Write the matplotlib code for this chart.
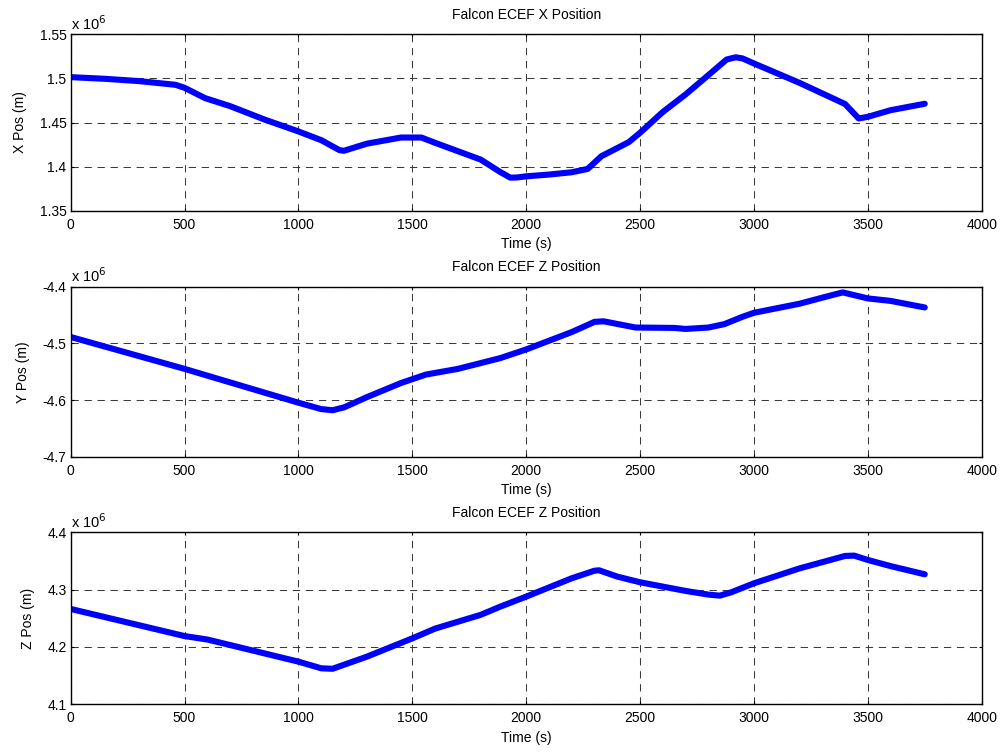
import matplotlib
matplotlib.use("Agg")
import matplotlib.pyplot as plt
from matplotlib.ticker import FuncFormatter, MultipleLocator

plt.rcParams['font.family'] = ['Liberation Sans', 'DejaVu Sans']
plt.rcParams['font.size'] = 10

# Falcon ECEF position track (time in s, position in m)
t_x = [0, 150, 300, 460, 500, 590, 700, 850, 1000, 1100, 1180, 1200, 1300, 1450,
       1540, 1600, 1800, 1886, 1930, 1960, 2000, 2100, 2200, 2270, 2330, 2450,
       2500, 2600, 2700, 2800, 2880, 2920, 2950, 3000, 3200, 3400, 3460, 3500,
       3600, 3750]
x_pos = [1.5015e6, 1.4996e6, 1.4970e6, 1.4928e6, 1.4894e6, 1.4777e6, 1.4686e6,
         1.4535e6, 1.4399e6, 1.4300e6, 1.4187e6, 1.4180e6, 1.4260e6, 1.4330e6,
         1.4330e6, 1.4270e6, 1.4080e6, 1.3939e6, 1.3875e6, 1.3877e6, 1.3890e6,
         1.3910e6, 1.3936e6, 1.3974e6, 1.4118e6, 1.4277e6, 1.4384e6, 1.4620e6,
         1.4819e6, 1.5038e6, 1.5215e6, 1.5240e6, 1.5227e6, 1.5170e6, 1.4950e6,
         1.4710e6, 1.4546e6, 1.4565e6, 1.4640e6, 1.4713e6]

t_y = [0, 500, 1000, 1100, 1150, 1200, 1300, 1450, 1560, 1700, 1886, 2000, 2200,
       2300, 2340, 2480, 2650, 2700, 2800, 2870, 2950, 3000, 3200, 3350, 3390,
       3500, 3600, 3750]
y_pos = [-4.4887e6, -4.5450e6, -4.6047e6, -4.6160e6, -4.6180e6, -4.6130e6,
         -4.5950e6, -4.5700e6, -4.5550e6, -4.5450e6, -4.5260e6, -4.5107e6,
         -4.4800e6, -4.4620e6, -4.4610e6, -4.4720e6, -4.4727e6, -4.4745e6,
         -4.4720e6, -4.4660e6, -4.4530e6, -4.4460e6, -4.4300e6, -4.4140e6,
         -4.4100e6, -4.4206e6, -4.4250e6, -4.4366e6]

t_z = [0, 500, 600, 1000, 1100, 1150, 1200, 1300, 1500, 1600, 1800, 1886, 2000,
       2200, 2300, 2320, 2400, 2500, 2700, 2800, 2850, 2900, 3000, 3200, 3400,
       3440, 3500, 3600, 3750]
z_pos = [4.2663e6, 4.2190e6, 4.2130e6, 4.1744e6, 4.1628e6, 4.1620e6, 4.1690e6,
         4.1830e6, 4.2150e6, 4.2320e6, 4.2560e6, 4.2703e6, 4.2878e6, 4.3198e6,
         4.3330e6, 4.3337e6, 4.3227e6, 4.3128e6, 4.2977e6, 4.2913e6, 4.2895e6,
         4.2953e6, 4.3110e6, 4.3370e6, 4.3587e6, 4.3593e6, 4.3517e6, 4.3410e6,
         4.3267e6]

titles = ["Falcon ECEF X Position", "Falcon ECEF Z Position", "Falcon ECEF Z Position"]
ylabels = ["X Pos (m)", "Y Pos (m)", "Z Pos (m)"]
ylims = [(1.35e6, 1.55e6), (-4.7e6, -4.4e6), (4.1e6, 4.4e6)]
ysteps = [0.05e6, 0.1e6, 0.1e6]
series = [(t_x, x_pos), (t_y, y_pos), (t_z, z_pos)]

# axes rectangles [left, bottom, width, height] in figure fractions
rects = [[0.0704, 0.7198, 0.9074, 0.2345],
         [0.0704, 0.3927, 0.9074, 0.2260],
         [0.0704, 0.0634, 0.9074, 0.2288]]

fig = plt.figure(figsize=(10.04, 7.52), dpi=100)
fmt = FuncFormatter(lambda v, p: "%g" % round(v / 1e6, 4))

for rect, (tt, vv), title, ylab, ylim, ystep in zip(rects, series, titles, ylabels, ylims, ysteps):
    ax = fig.add_axes(rect)
    ax.plot(tt, vv, color=(0, 0, 1), linewidth=4.4, solid_capstyle='round',
            solid_joinstyle='round')
    ax.set_xlim(0, 4000)
    ax.set_ylim(*ylim)
    ax.xaxis.set_major_locator(MultipleLocator(500))
    ax.yaxis.set_major_locator(MultipleLocator(ystep))
    ax.yaxis.set_major_formatter(fmt)
    ax.grid(True, color='#3a3a3a', linestyle=(0, (7.0, 5.5)), linewidth=0.75)
    ax.tick_params(direction='in', top=True, right=True, length=2, width=0.8,
                   labelsize=10)
    ax.tick_params(axis='x', pad=5)
    ax.tick_params(axis='y', pad=3)
    for s in ax.spines.values():
        s.set_linewidth(1.0)
    ax.set_title(title, fontsize=10, pad=11)
    ax.set_xlabel("Time (s)", fontsize=10, labelpad=4)
    ax.set_ylabel(ylab, fontsize=10, labelpad=9)
    ax.text(0.0, 1.01, r"x 10$^{6}$", transform=ax.transAxes, ha='left',
            va='bottom', fontsize=10.5)

fig.savefig("out.png", dpi=100, facecolor='white')
